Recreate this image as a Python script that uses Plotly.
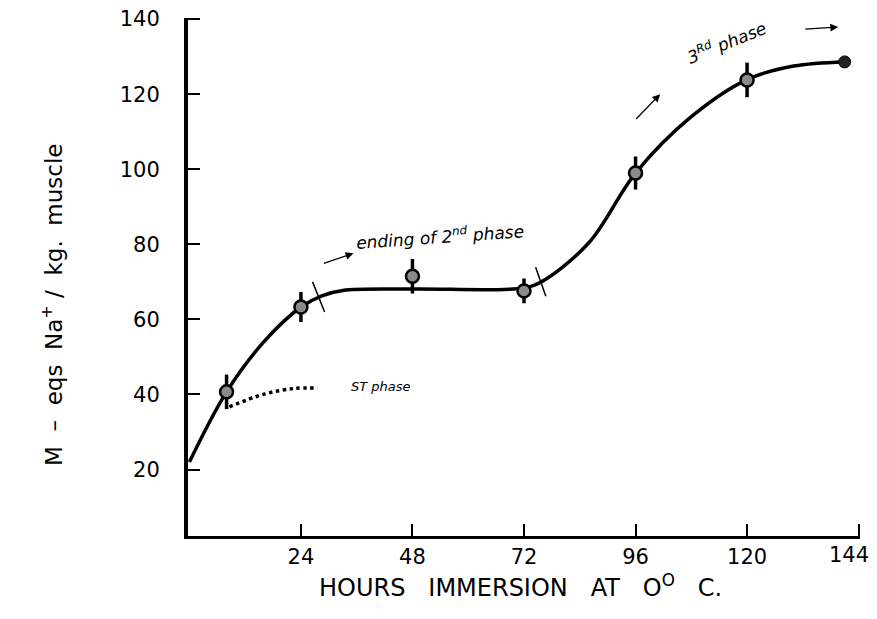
import plotly.graph_objects as go

# ---- data ----
hours = [8, 24, 48, 72, 96, 120]
na_meq = [40.7, 63.3, 71.5, 67.6, 99.0, 123.8]
na_err = [4.6, 4.0, 4.6, 3.3, 4.4, 4.6]

last_hour = [141]
last_na = [128.6]

curve_x = [0, 8, 16, 24, 28.5, 33, 48, 72, 76, 86, 96, 108, 120, 130, 141]
curve_y = [22, 40.7, 54, 63.3, 66.3, 67.7, 68.1, 68.4, 70.2, 80.5, 99, 114, 123.9, 127.5, 128.6]

st_x = [8.6, 16.1, 22.6, 27.6]
st_y = [36.7, 40.1, 41.6, 41.7]

cut1_x = [26.5, 29.1]
cut1_y = [70, 62]
cut2_x = [74.5, 76.7]
cut2_y = [73.9, 66.2]

x_ticks = [24, 48, 72, 96, 120, 144]
x_labels = ["24", "48", "72", "96", "120", ""]
last_x_label = "144"
y_ticks = [20, 40, 60, 80, 100, 120, 140]
y_labels = ["20", "40", "60", "80", "100", "120", "140"]

x_title = "HOURS   IMMERSION   AT   O<sup>O</sup>   C."
y_title = "M  –  eqs  Na<sup>+</sup> /  kg.  muscle"

FONT = "DejaVu Sans"

fig = go.Figure()

fig.add_trace(go.Scatter(x=curve_x, y=curve_y, mode="lines",
                         line=dict(color="black", width=3.5, shape="spline", smoothing=1.0),
                         hoverinfo="skip"))
fig.add_trace(go.Scatter(x=st_x, y=st_y, mode="lines",
                         line=dict(color="black", width=3.5, dash="dot", shape="spline", smoothing=1.0),
                         hoverinfo="skip"))
for cx, cy in ((cut1_x, cut1_y), (cut2_x, cut2_y)):
    fig.add_trace(go.Scatter(x=cx, y=cy, mode="lines",
                             line=dict(color="black", width=1.5), hoverinfo="skip"))

fig.add_trace(go.Scatter(x=hours, y=na_meq, mode="markers",
                         error_y=dict(type="data", array=na_err, color="black",
                                      thickness=3.5, width=0),
                         marker=dict(symbol="circle", size=13, color="#8a8a8a",
                                     line=dict(color="black", width=2.5))))
fig.add_trace(go.Scatter(x=last_hour, y=last_na, mode="markers",
                         marker=dict(symbol="circle", size=12, color="#222222",
                                     line=dict(color="black", width=1))))

# arrows
arrows = [((28.6, 74.8), (35.3, 77.6)), ((95.8, 113), (101.3, 120)), ((132.2, 137.3), (139.6, 137.9))]
for (x0, y0), (x1, y1) in arrows:
    fig.add_annotation(x=x1, y=y1, ax=x0, ay=y0, xref="x", yref="y", axref="x", ayref="y",
                       text="", showarrow=True, arrowhead=2, arrowsize=1.2, arrowwidth=1.3,
                       arrowcolor="black")

fig.add_annotation(x=54, y=82.1, text="ending of 2<sup>nd</sup> phase", showarrow=False,
                   textangle=-4, font=dict(family=FONT, size=17, color="black", style="italic"))
fig.add_annotation(x=115.5, y=133.8, text="3<sup>Rd</sup> phase", showarrow=False,
                   textangle=-22, font=dict(family=FONT, size=17, color="black", style="italic"))
fig.add_annotation(x=41.3, y=42.2, text="ST phase", showarrow=False,
                   font=dict(family=FONT, size=13, color="black", style="italic"))

# last x tick label, kept inside the page edge
fig.add_annotation(x=x_ticks[-1], xref="x", yref="paper", y=0, yshift=-5,
                   text=last_x_label, showarrow=False, xanchor="right", yanchor="top",
                   xshift=12, font=dict(family=FONT, size=21, color="black"))

# axis titles
fig.add_annotation(xref="paper", yref="paper", x=0.4955, y=-0.0965, text=x_title,
                   showarrow=False, xanchor="center", yanchor="middle",
                   font=dict(family=FONT, size=24, color="black"))
fig.add_annotation(xref="paper", yref="paper", x=-0.2024, y=0.446, text=y_title,
                   showarrow=False, xanchor="center", yanchor="middle", textangle=-90,
                   font=dict(family=FONT, size=23, color="black"))

fig.update_layout(
    width=877, height=619,
    margin=dict(l=180, r=25, t=10, b=91, autoexpand=False),
    plot_bgcolor="white", paper_bgcolor="white",
    showlegend=False,
    font=dict(family=FONT, color="black"),
    xaxis=dict(range=[-0.3, 144.3], tickvals=x_ticks, ticktext=x_labels,
               ticks="inside", ticklen=12, tickwidth=2, tickcolor="black", automargin=False,
               showline=True, linecolor="black", linewidth=3, showgrid=False, zeroline=False,
               tickfont=dict(size=21, family=FONT), ticklabeloverflow="allow"),
    yaxis=dict(range=[2.3, 140.3], tickvals=y_ticks, ticktext=y_labels,
               ticks="inside", ticklen=12, tickwidth=2, tickcolor="black", automargin=False,
               showline=True, linecolor="black", linewidth=4, showgrid=False, zeroline=False,
               tickfont=dict(size=21, family=FONT), ticklabelstandoff=20, ticklabeloverflow="allow"),
)

fig.write_html("out.html")
